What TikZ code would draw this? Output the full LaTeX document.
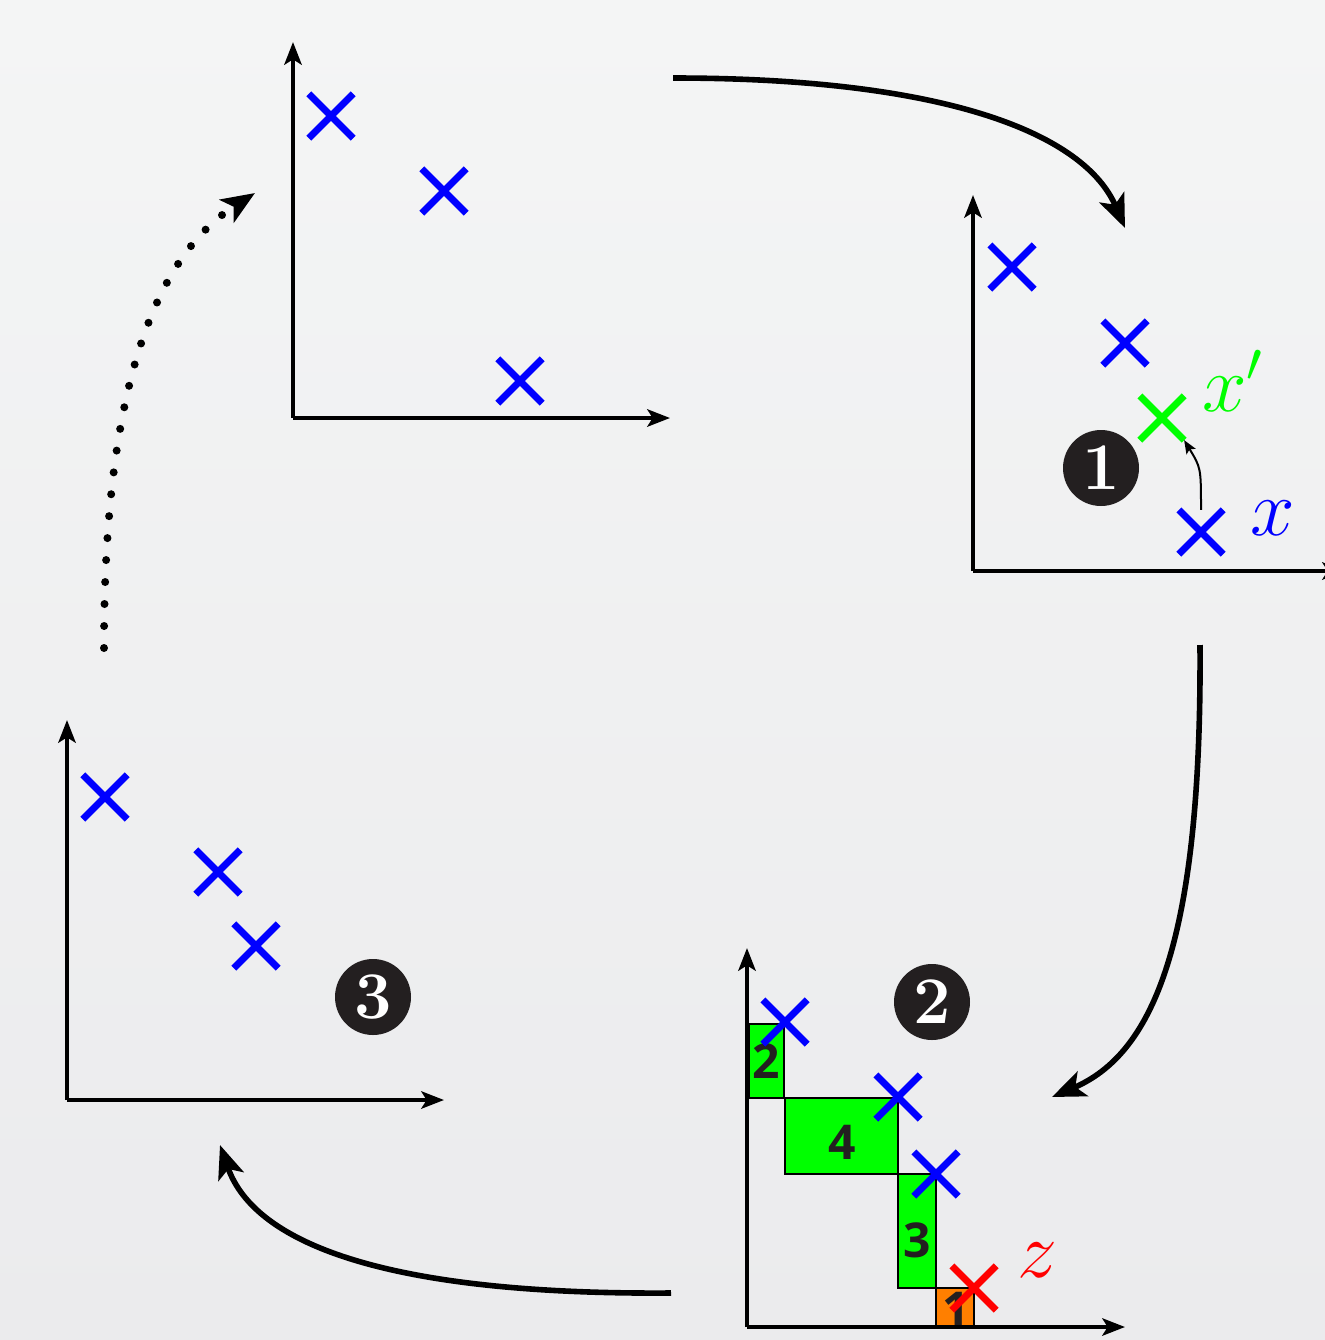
\RequirePackage{fix-cm}
\documentclass[tikz,border=0pt]{standalone}
\usepackage{fontspec}
\newfontfamily\digitfont{Open Sans}
\usetikzlibrary{arrows.meta,shapes.misc}
\definecolor{bgtop}{HTML}{F4F5F5}
\definecolor{bgbot}{HTML}{EBEBED}
\definecolor{badgec}{HTML}{231F20}
\definecolor{xgreen}{HTML}{00FF00}
\definecolor{xorange}{HTML}{FF7F00}
\begin{document}
\begin{tikzpicture}[x=0.75pt,y=-0.75pt,
 axis/.style={line width=3pt, -{Stealth[length=17pt,width=13pt,inset=4pt]}},
 flow/.style={line width=4.2pt, -{Stealth[length=25pt,width=20pt,inset=6pt]}},
 xmark/.style={cross out, draw=#1, line width=5.2pt, minimum size=28pt, inner sep=0pt},
 badge/.style={circle, fill=badgec, text=white, minimum size=57pt, inner sep=0pt, font=\fontsize{50}{50}\selectfont\bfseries},
 cell/.style={draw=black, line width=1.5pt, fill=#1},
 celltext/.style={inner sep=0pt, text=badgec, font=\digitfont\fontsize{36}{36}\selectfont\bfseries},
 lab/.style={inner sep=0pt, anchor=base west, text=#1, font=\fontsize{60}{60}\selectfont}
]
\clip (0,0) rectangle (1325,1340);
\shade[top color=bgtop, bottom color=bgbot] (0,0) rectangle (1325,1340);

% Panel A (top)
\coordinate (oA) at (293,418);
\coordinate (yA) at (293,42);
\coordinate (xA) at (670,418);
\draw[axis] (oA) -- (yA);
\draw[axis] (oA) -- (xA);
\node[xmark=blue] (a1) at (331,116) {};
\node[xmark=blue] (a2) at (444,191) {};
\node[xmark=blue] (a3) at (520,381) {};

% Panel B (right)
\coordinate (oB) at (973,571);
\coordinate (yB) at (973,195);
\coordinate (xB) at (1345,571);
\draw[axis] (oB) -- (yB);
\draw[axis] (oB) -- (xB);
\node[xmark=blue] (b1) at (1012,267) {};
\node[xmark=blue] (b2) at (1125,343) {};
\node[xmark=xgreen] (g1) at (1162,418) {};
\node[xmark=blue] (b4) at (1201,532) {};
\node[lab=xgreen] (lxp) at (1202,411) {$x'$};
\node[lab=blue] (lx) at (1250,535) {$x$};
\draw[line width=1.5pt, -{Stealth[length=10pt,width=8pt,inset=2pt]}] (b4.north) .. controls +(0,-42) .. (g1.south east);
\node[badge] (n1) at (1101,468) {1};

% Panel C (bottom right)
\draw[cell=xgreen] (749,1024) rectangle (784,1098);
\draw[cell=xgreen] (785,1098) rectangle (898,1174);
\draw[cell=xgreen] (898,1174) rectangle (936,1288);
\draw[cell=xorange] (936,1288) rectangle (974,1327);
\node[celltext] (c2) at (766,1061) {2};
\node[celltext] (c4) at (842,1142) {4};
\node[celltext] (c3) at (917,1240) {3};
\node[celltext] (c1) at (956,1309) {1};
\coordinate (oC) at (747,1327);
\coordinate (yC) at (747,948);
\coordinate (xC) at (1125,1327);
\draw[axis] (oC) -- (yC);
\draw[axis] (oC) -- (xC);
\node[xmark=blue] (d1) at (785,1022) {};
\node[xmark=blue] (d2) at (898,1097) {};
\node[xmark=blue] (d3) at (936,1174) {};
\node[xmark=red] (r1) at (974,1288) {};
\node[lab=red] (lz) at (1017,1277) {$z$};
\node[badge] (n2) at (932,1002) {2};

% Panel D (bottom left)
\coordinate (oD) at (67,1100);
\coordinate (yD) at (67,720);
\coordinate (xD) at (444,1100);
\draw[axis] (oD) -- (yD);
\draw[axis] (oD) -- (xD);
\node[xmark=blue] (e1) at (105,797) {};
\node[xmark=blue] (e2) at (218,872) {};
\node[xmark=blue] (e3) at (256,946) {};
\node[badge] (n3) at (373,997) {3};

% Flow arrows
\coordinate (f1s) at (673,78);
\coordinate (f1e) at (1125,228);
\coordinate (f2s) at (1200,645);
\coordinate (f2e) at (1052,1097);
\coordinate (f3s) at (671,1293);
\coordinate (f3e) at (220,1145);
\coordinate (f4s) at (104,648);
\coordinate (f4e) at (255,193);
\draw[flow] (f1s) .. controls (950,78) and (1085,135) .. (f1e);
\draw[flow] (f2s) .. controls (1202,950) and (1150,1055) .. (f2e);
\draw[flow] (f3s) .. controls (390,1295) and (255,1245) .. (f3e);
\draw[line width=6pt, line cap=round, dash pattern=on 0pt off 16.5pt, -{Stealth[length=25pt,width=20pt,inset=6pt]}] (f4s) .. controls (104,400) and (150,260) .. (f4e);
\end{tikzpicture}
\end{document}
